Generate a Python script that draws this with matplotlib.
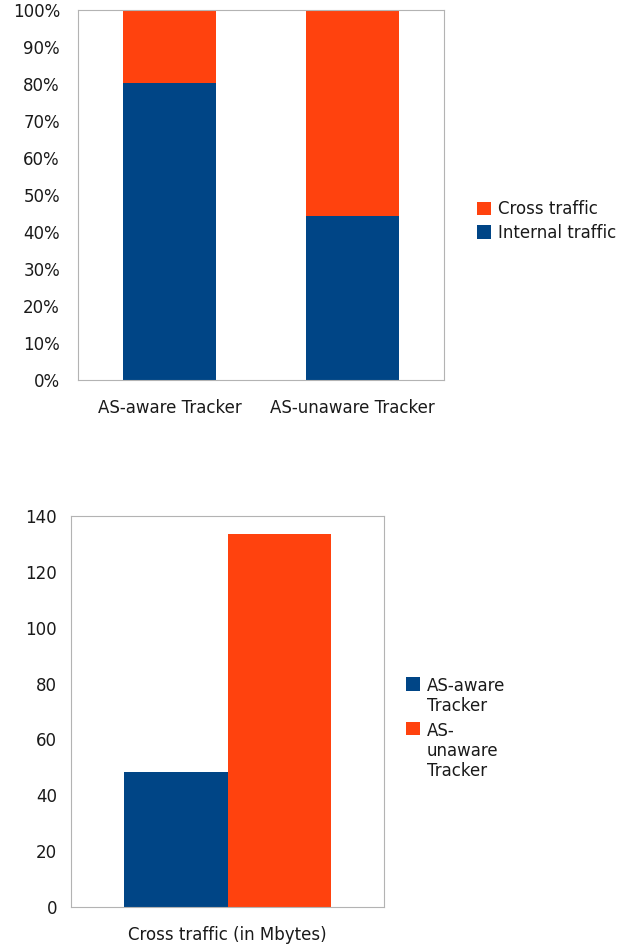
import matplotlib
matplotlib.use("Agg")
import matplotlib.pyplot as plt
from matplotlib.ticker import FuncFormatter

# Data
trackers = ["AS-aware Tracker", "AS-unaware Tracker"]
internal_pct = [80.2, 44.2]
cross_pct = [19.8, 55.8]
pct_ticks = [0, 10, 20, 30, 40, 50, 60, 70, 80, 90, 100]

cross_category = ["Cross traffic (in Mbytes)"]
cross_mbytes_aware = [48.2]
cross_mbytes_unaware = [133.4]
mb_ticks = [0, 20, 40, 60, 80, 100, 120, 140]

BLUE = "#004586"
ORANGE = "#ff420e"
SPINE = "#b3b3b3"
TXT = "#1a1a1a"

plt.rcParams["font.family"] = ["DejaVu Sans"]
plt.rcParams["font.size"] = 12

fig = plt.figure(figsize=(6.31, 9.48), dpi=100)

# Top chart
ax1 = fig.add_axes([78/631, 1-380/948, (444-78)/631, (380-10)/948])
x = list(range(len(trackers)))
ax1.bar(x, internal_pct, width=0.505, color=BLUE, label="Internal traffic")
ax1.bar(x, cross_pct, width=0.505, bottom=internal_pct, color=ORANGE, label="Cross traffic")
ax1.set_xlim(-0.5, 1.5)
ax1.set_ylim(0, 100)
ax1.set_yticks(pct_ticks)
ax1.yaxis.set_major_formatter(FuncFormatter(lambda v, p: f"{int(v)}%"))
ax1.set_xticks(x)
ax1.set_xticklabels(trackers)
ax1.tick_params(axis="y", length=0, pad=13, colors=TXT, labelsize=12)
ax1.tick_params(axis="x", length=0, pad=14, colors=TXT, labelsize=12)
for s in ax1.spines.values():
    s.set_color(SPINE)
h, l = ax1.get_legend_handles_labels()
ax1.legend(h[::-1], l[::-1], loc="center left", bbox_to_anchor=(1.09, 0.43),
           frameon=False, handlelength=0.85, handleheight=0.85,
           handletextpad=0.4, labelspacing=0.35, fontsize=12,
           labelcolor=TXT, borderaxespad=0, borderpad=0)

# Bottom chart
ax2 = fig.add_axes([71/631, 1-907/948, (384-71)/631, (907-516)/948])
w = 0.332
ax2.bar([0 - w/2], cross_mbytes_aware, width=w, color=BLUE, label="AS-aware\nTracker")
ax2.bar([0 + w/2], cross_mbytes_unaware, width=w, color=ORANGE, label="AS-\nunaware\nTracker")
ax2.set_xlim(-0.5, 0.5)
ax2.set_ylim(0, 140)
ax2.set_yticks(mb_ticks)
ax2.set_xticks([0])
ax2.set_xticklabels(cross_category)
ax2.tick_params(axis="y", length=0, pad=10, colors=TXT, labelsize=12)
ax2.tick_params(axis="x", length=0, pad=14, colors=TXT, labelsize=12)
for s in ax2.spines.values():
    s.set_color(SPINE)
leg2 = ax2.legend(loc="upper left", bbox_to_anchor=(1.07, 0.587),
           frameon=False, handlelength=0.85, handleheight=0.85,
           handletextpad=0.4, labelspacing=0.42, fontsize=12,
           labelcolor=TXT, borderaxespad=0, borderpad=0)
for t in leg2.get_texts():
    t.set_linespacing(1.12)
try:
    for col in leg2._legend_handle_box.get_children():
        for row in col.get_children():
            row.align = "top"
except Exception:
    pass

fig.savefig("out.png", dpi=100)
